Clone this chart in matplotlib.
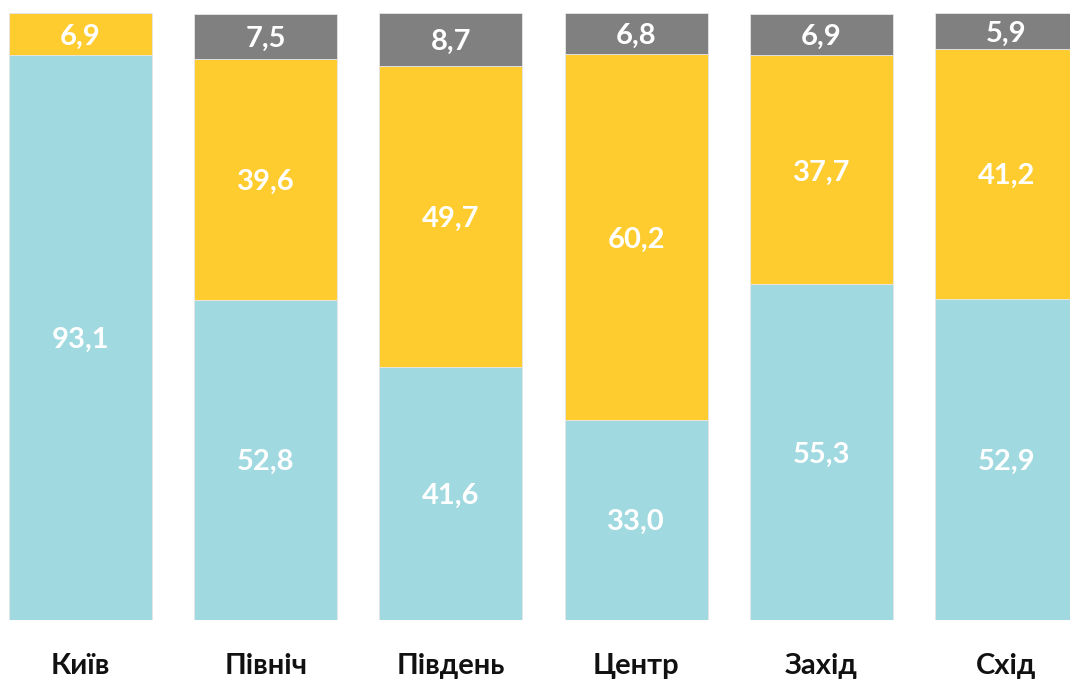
import matplotlib
matplotlib.use("Agg")
import matplotlib.pyplot as plt
import numpy as np

regions = ["Київ", "Північ", "Південь", "Центр", "Захід", "Схід"]
blue_vals = [93.1, 52.8, 41.6, 33.0, 55.3, 52.9]
yellow_vals = [6.9, 39.6, 49.7, 60.2, 37.7, 41.2]
gray_vals = [0.0, 7.5, 8.7, 6.8, 6.9, 5.9]

colors = ["#a0d9e0", "#fecc2f", "#808080"]

plt.rcParams['font.family'] = ['Lato', 'DejaVu Sans']

fig = plt.figure(figsize=(10.7, 6.81), dpi=100)
ax = fig.add_axes([0, 61 / 681, 1, 607 / 681])

x = np.arange(len(regions))
width = 0.772
bottom = np.zeros(len(regions))
for vals, col in zip([blue_vals, yellow_vals, gray_vals], colors):
    vals = np.array(vals)
    ax.bar(x, vals, width, bottom=bottom, color=col, edgecolor="#e6e6e6", linewidth=0.6)
    for xi, b, v in zip(x, bottom, vals):
        if v > 0:
            ax.text(xi, b + v / 2, f"{v:.1f}".replace(".", ","), ha="center",
                    va="center_baseline", color="white", fontsize=21, fontweight="bold")
    bottom = bottom + vals

ax.set_xlim(-80.5 / 185.2, (1070 - 80.5) / 185.2)
ax.set_ylim(0, 100)
for s in ax.spines.values():
    s.set_visible(False)
ax.set_yticks([])
ax.set_xticks(x)
ax.set_xticklabels(regions, fontsize=21, fontweight="bold", color="#111111")
ax.tick_params(axis="x", length=0, pad=24)

fig.savefig("out.png", dpi=100)
